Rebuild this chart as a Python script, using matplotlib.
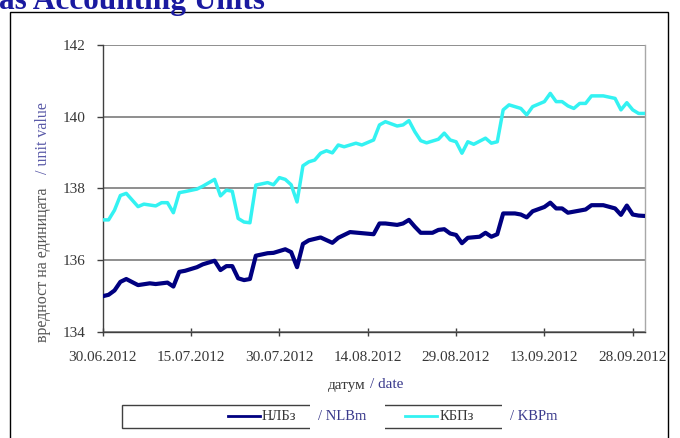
import datetime as dt
import matplotlib
matplotlib.use("Agg")
import matplotlib.pyplot as plt
import matplotlib.dates as mdates
from matplotlib.lines import Line2D
from matplotlib.patches import Rectangle

# ── data (day offset from 30.06.2012) ─────────────────────────────────────
START = dt.date(2012, 6, 30)

nlb_day = [0, 1, 2, 3, 4, 6, 8, 9, 11, 12, 13, 14, 16, 17, 19, 20, 21, 22, 23,
           24, 25, 26, 28, 29, 31, 32, 33, 34, 35, 37, 39, 40, 42, 44, 46, 47,
           48, 50, 51, 52, 53, 54, 56, 57, 58, 59, 60, 61, 62, 64, 65, 66, 67,
           68, 70, 71, 72, 73, 75, 76, 77, 78, 79, 80, 82, 83, 85, 87, 88, 89,
           90, 91, 92]
nlb_val = [134.99, 135.03, 135.15, 135.39, 135.47, 135.30, 135.35, 135.33,
           135.37, 135.26, 135.67, 135.70, 135.80, 135.88, 135.98, 135.72,
           135.83, 135.83, 135.49, 135.44, 135.47, 136.12, 136.19, 136.20,
           136.30, 136.22, 135.80, 136.45, 136.55, 136.63, 136.48, 136.62,
           136.78, 136.75, 136.72, 137.02, 137.02, 136.98, 137.02, 137.12,
           136.93, 136.76, 136.76, 136.84, 136.86, 136.74, 136.70, 136.47,
           136.62, 136.65, 136.76, 136.65, 136.72, 137.30, 137.30, 137.27,
           137.19, 137.36, 137.48, 137.60, 137.44, 137.44, 137.32, 137.35,
           137.41, 137.53, 137.53, 137.44, 137.26, 137.52, 137.27, 137.24,
           137.23]

kbp_day = [0, 1, 2, 3, 4, 6, 7, 9, 10, 11, 12, 13, 14, 16, 17, 19, 20, 21, 22,
           23, 24, 25, 26, 28, 29, 30, 31, 32, 33, 34, 35, 36, 37, 38, 39, 40,
           41, 43, 44, 46, 47, 48, 50, 51, 52, 53, 54, 55, 57, 58, 59, 60, 61,
           62, 63, 65, 66, 67, 68, 69, 71, 72, 73, 75, 76, 77, 78, 79, 80, 81,
           82, 83, 85, 87, 88, 89, 90, 91, 92]
kbp_val = [137.12, 137.12, 137.39, 137.80, 137.86, 137.49, 137.56, 137.51,
           137.60, 137.60, 137.32, 137.88, 137.91, 137.98, 138.06, 138.25,
           137.79, 137.95, 137.92, 137.16, 137.06, 137.04, 138.09, 138.16,
           138.10, 138.30, 138.25, 138.10, 137.62, 138.63, 138.74, 138.79,
           138.98, 139.05, 138.99, 139.21, 139.16, 139.26, 139.21, 139.35,
           139.77, 139.86, 139.74, 139.77, 139.89, 139.58, 139.33, 139.27,
           139.37, 139.54, 139.35, 139.30, 138.98, 139.30, 139.23, 139.40,
           139.26, 139.30, 140.19, 140.33, 140.23, 140.05, 140.28, 140.42,
           140.65, 140.42, 140.42, 140.30, 140.23, 140.37, 140.37, 140.58,
           140.58, 140.51, 140.19, 140.39, 140.19, 140.09, 140.09]

y_ticks = [134, 136, 138, 140, 142]

NAVY = "#000080"
CYAN = "#33F2F2"
TXT = "#383838"
BLUE_TXT = "#3A3A8C"
SERIF = ["Liberation Serif", "DejaVu Serif"]

plt.rcParams["font.family"] = SERIF

W, H = 680, 438


def fx(x):
    return x / W


def fy(y):
    return 1 - y / H


fig = plt.figure(figsize=(W / 100, H / 100), dpi=100)
fig.patch.set_facecolor("white")

# ── outer frame + title (cut at the top edge, as in the source) ───────────
fig.add_artist(Rectangle((fx(10), fy(445)), fx(668) - fx(10), fy(12) - fy(445),
                         transform=fig.transFigure, fill=False,
                         edgecolor="black", lw=1.0))
fig.text(fx(-1), fy(9), "as Accounting Units", fontsize=22.5, fontweight="bold",
         color="#1A1AA0", ha="left", va="baseline")

# ── plot area ─────────────────────────────────────────────────────────────
ax = fig.add_axes([fx(102.7), fy(331.7), fx(644.5) - fx(102.7),
                   fy(45) - fy(331.7)])

nlb_x = [START + dt.timedelta(days=d) for d in nlb_day]
kbp_x = [START + dt.timedelta(days=d) for d in kbp_day]

ax.plot(nlb_x, nlb_val, color=NAVY, lw=3.0, solid_joinstyle="round", zorder=3)
ax.plot(kbp_x, kbp_val, color=CYAN, lw=2.5, solid_joinstyle="round", zorder=3)

ax.set_xlim(START, START + dt.timedelta(days=92))
ax.set_ylim(134, 142)
ax.set_yticks(y_ticks)
ax.set_xticks([START + dt.timedelta(days=15 * k) for k in range(7)])
ax.xaxis.set_major_formatter(mdates.DateFormatter("%d.%m.%Y"))

ax.yaxis.grid(True, color="#707070", lw=1.1)
ax.set_axisbelow(True)
for s in ["left", "bottom"]:
    ax.spines[s].set_color("#404040")
    ax.spines[s].set_linewidth(1.0)
ax.spines["top"].set_visible(False)
ax.spines["right"].set_color("#A8A8A8")
ax.spines["right"].set_linewidth(1.0)

ax.tick_params(axis="y", direction="out", length=4, width=1, color="#404040",
               labelsize=11, labelcolor=TXT, pad=8)
ax.tick_params(axis="x", direction="inout", length=6, width=1, color="#404040",
               labelsize=11, labelcolor=TXT, pad=11)

# ── axis titles (two colours each) ────────────────────────────────────────
fig.text(fx(43), fy(342), "вредност на единицата", rotation=90, fontsize=11.5,
         color="#555555", ha="center", va="bottom")
fig.text(fx(43), fy(102), "/ unit value", rotation=90, fontsize=11.5,
         color="#5A5AA8", ha="center", va="top")
fig.text(fx(366), fy(385), "датум", fontsize=11, color=TXT,
         ha="right", va="center")
fig.text(fx(370), fy(385), "/ date", fontsize=11, color=BLUE_TXT,
         ha="left", va="center")

# ── legend ────────────────────────────────────────────────────────────────
fig.add_artist(Rectangle((fx(122), fy(428)), fx(562) - fx(122),
                         fy(405) - fy(428), transform=fig.transFigure,
                         fill=False, edgecolor="#404040", lw=1.0))
fig.add_artist(Line2D([fx(228), fx(260)], [fy(416), fy(416)],
                      transform=fig.transFigure, color=NAVY, lw=2))
fig.add_artist(Line2D([fx(405), fx(437)], [fy(416), fy(416)],
                      transform=fig.transFigure, color=CYAN, lw=2))
fig.text(fx(262), fy(416), "НЛБз", fontsize=10.5, color=TXT,
         ha="left", va="center")
fig.text(fx(440), fy(416), "КБПз", fontsize=10.5, color=TXT,
         ha="left", va="center")
white = dict(boxstyle="square,pad=0.55", facecolor="white", edgecolor="none")
fig.text(fx(318), fy(416), "/ NLBm   ", fontsize=10.5, color=BLUE_TXT,
         ha="left", va="center", bbox=white, zorder=5)
fig.text(fx(510), fy(416), "/ KBPm", fontsize=10.5, color=BLUE_TXT,
         ha="left", va="center", bbox=white, zorder=5)

fig.savefig("out.png", dpi=100, facecolor="white")
